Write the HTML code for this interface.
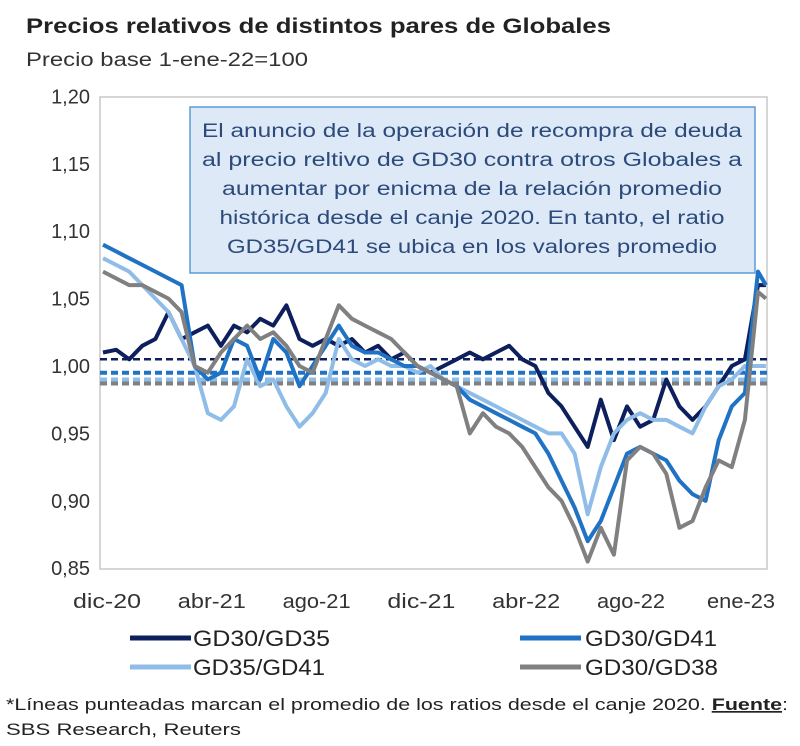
<!DOCTYPE html>
<html><head><meta charset="utf-8"><style>
body{margin:0;background:#fff;width:800px;height:741px;overflow:hidden}
svg text{font-family:"Liberation Sans",sans-serif}
</style></head><body>
<svg id="chart" width="800" height="741" viewBox="0 0 800 741" xmlns="http://www.w3.org/2000/svg">
<text x="26" y="33" font-size="21" font-weight="bold" fill="#222" textLength="585" lengthAdjust="spacingAndGlyphs">Precios relativos de distintos pares de Globales</text>
<text x="26" y="66" font-size="19" fill="#333" textLength="282" lengthAdjust="spacingAndGlyphs">Precio base 1-ene-22=100</text>
<rect x="100" y="97" width="667" height="472" fill="none" stroke="#c8c8c8" stroke-width="1.5"/>
<g id="yaxis"></g>
<g id="xaxis"></g>
<g id="avg"></g>
<g id="series"></g>
<g>
<rect x="190" y="107" width="565" height="166" fill="#dde9f7" stroke="#5b9bd5" stroke-width="1.5"/>
<g font-size="19" fill="#2c4a7a" text-anchor="middle">
<text x="472" y="137" textLength="540" lengthAdjust="spacingAndGlyphs">El anuncio de la operación de recompra de deuda</text>
<text x="472" y="166" textLength="540" lengthAdjust="spacingAndGlyphs">al precio reltivo de GD30 contra otros Globales a</text>
<text x="472" y="195" textLength="500" lengthAdjust="spacingAndGlyphs">aumentar por enicma de la relación promedio</text>
<text x="472" y="224" textLength="505" lengthAdjust="spacingAndGlyphs">histórica desde el canje 2020. En tanto, el ratio</text>
<text x="472" y="253" textLength="490" lengthAdjust="spacingAndGlyphs">GD35/GD41 se ubica en los valores promedio</text>
</g></g>
<g font-size="22" fill="#222">
<line x1="130" y1="638" x2="191" y2="638" stroke="#0d1f5c" stroke-width="5"/><text x="193" y="646" textLength="137" lengthAdjust="spacingAndGlyphs">GD30/GD35</text>
<line x1="520" y1="638" x2="581" y2="638" stroke="#1f72c4" stroke-width="5"/><text x="585" y="646" textLength="132" lengthAdjust="spacingAndGlyphs">GD30/GD41</text>
<line x1="130" y1="667" x2="191" y2="667" stroke="#8fbde8" stroke-width="5"/><text x="193" y="675" textLength="132" lengthAdjust="spacingAndGlyphs">GD35/GD41</text>
<line x1="520" y1="667" x2="581" y2="667" stroke="#808080" stroke-width="5"/><text x="585" y="675" textLength="133" lengthAdjust="spacingAndGlyphs">GD30/GD38</text>
</g>
<g font-size="17" fill="#222">
<text x="6" y="710" textLength="782" lengthAdjust="spacingAndGlyphs">*Líneas punteadas marcan el promedio de los ratios desde el canje 2020. <tspan font-weight="bold" text-decoration="underline">Fuente</tspan>:</text>
<text x="6" y="735" textLength="235" lengthAdjust="spacingAndGlyphs">SBS Research, Reuters</text>
</g>
</svg>
<script>
const months=[0,0.5,1,1.5,2,2.5,3,3.5,4,4.5,5,5.5,6,6.5,7,7.5,8,8.5,9,9.5,10,10.5,11,11.5,12,12.5,13,13.5,14,14.5,15,15.5,16,16.5,17,17.5,18,18.5,19,19.5,20,20.5,21,21.5,22,22.5,23,23.5,24,24.5,25,25.3];
const gd30gd35=[1.01,1.012,1.005,1.015,1.02,1.04,1.02,1.025,1.03,1.015,1.03,1.025,1.035,1.03,1.045,1.02,1.015,1.02,1.015,1.02,1.01,1.015,1.005,1.01,1.0,0.995,1.0,1.005,1.01,1.005,1.01,1.015,1.005,1.0,0.98,0.97,0.955,0.94,0.975,0.945,0.97,0.955,0.96,0.99,0.97,0.96,0.97,0.985,1.0,1.005,1.06,1.06];
const gd30gd41=[1.09,1.085,1.08,1.075,1.07,1.065,1.06,1.0,0.99,0.995,1.02,1.015,0.99,1.02,1.01,0.985,1.0,1.015,1.03,1.015,1.01,1.01,1.005,1.0,1.0,0.995,0.99,0.985,0.975,0.97,0.965,0.96,0.955,0.95,0.935,0.915,0.895,0.87,0.885,0.91,0.935,0.94,0.935,0.93,0.915,0.905,0.9,0.945,0.97,0.98,1.07,1.06];
const gd35gd41=[1.08,1.075,1.07,1.06,1.05,1.04,1.02,1.0,0.965,0.96,0.97,1.005,0.985,0.99,0.97,0.955,0.965,0.98,1.02,1.005,1.0,1.005,1.0,1.0,0.995,1.0,0.99,0.985,0.98,0.975,0.97,0.965,0.96,0.955,0.95,0.95,0.935,0.89,0.925,0.95,0.96,0.965,0.96,0.96,0.955,0.95,0.97,0.985,0.99,1.0,1.0,1.0];
const gd30gd38=[1.07,1.065,1.06,1.06,1.055,1.05,1.04,1.0,0.995,1.01,1.02,1.03,1.02,1.025,1.015,1.0,0.995,1.02,1.045,1.035,1.03,1.025,1.02,1.01,1.0,0.995,0.99,0.985,0.95,0.965,0.955,0.95,0.94,0.925,0.91,0.9,0.88,0.855,0.88,0.86,0.93,0.94,0.935,0.92,0.88,0.885,0.91,0.93,0.925,0.96,1.055,1.05];
const averages=[1.005,0.995,0.99,0.987];
const yTicks=[1.20,1.15,1.10,1.05,1.00,0.95,0.90,0.85];
const yTickLabels=["1,20","1,15","1,10","1,05","1,00","0,95","0,90","0,85"];
const xTickMonths=[0,4,8,12,16,20,24.2];
const xTickLabels=["dic-20","abr-21","ago-21","dic-21","abr-22","ago-22","ene-23"];
const NS="http://www.w3.org/2000/svg";
function X(m){return 103+m*26.2;}
function Y(v){return 366-(v-1)*1348;}
const ya=document.getElementById('yaxis');
yTicks.forEach((t,i)=>{const e=document.createElementNS(NS,'text');


e.setAttribute('x',90);e.setAttribute('y',Y(t)+7);e.setAttribute('text-anchor','end');e.setAttribute('font-size','20');e.setAttribute('fill','#333');e.textContent=yTickLabels[i];ya.appendChild(e);});
const xa=document.getElementById('xaxis');
xTickMonths.forEach((m,i)=>{const e=document.createElementNS(NS,'text');


e.setAttribute('x',X(m)+4);e.setAttribute('y',608);e.setAttribute('text-anchor','middle');e.setAttribute('font-size','20');e.setAttribute('fill','#333');e.setAttribute('textLength','68');e.setAttribute('lengthAdjust','spacingAndGlyphs');e.textContent=xTickLabels[i];xa.appendChild(e);});
const colors=["#0d1f5c","#1f72c4","#8fbde8","#808080"];
const names=["gd30-gd35","gd30-gd41","gd35-gd41","gd30-gd38"];
const av=document.getElementById('avg');
averages.forEach((a,i)=>{const l=document.createElementNS(NS,'line');


l.setAttribute('x1',100);l.setAttribute('x2',767);l.setAttribute('y1',Y(a));l.setAttribute('y2',Y(a));l.setAttribute('stroke',colors[i]);l.setAttribute('stroke-width',i==0?2.5:4);l.setAttribute('stroke-dasharray','7 4');av.appendChild(l);});
const sg=document.getElementById('series');
[gd30gd35,gd35gd41,gd30gd41,gd30gd38].forEach((s,k)=>{const idx=[0,2,1,3][k];
const p=document.createElementNS(NS,'path');


p.setAttribute('d',s.map((v,i)=>(i?'L':'M')+X(months[i]).toFixed(1)+' '+Y(v).toFixed(1)).join(' '));
p.setAttribute('fill','none');p.setAttribute('stroke',colors[idx]);p.setAttribute('stroke-width','4');p.setAttribute('stroke-linejoin','round');sg.appendChild(p);});
</script>
</body></html>
